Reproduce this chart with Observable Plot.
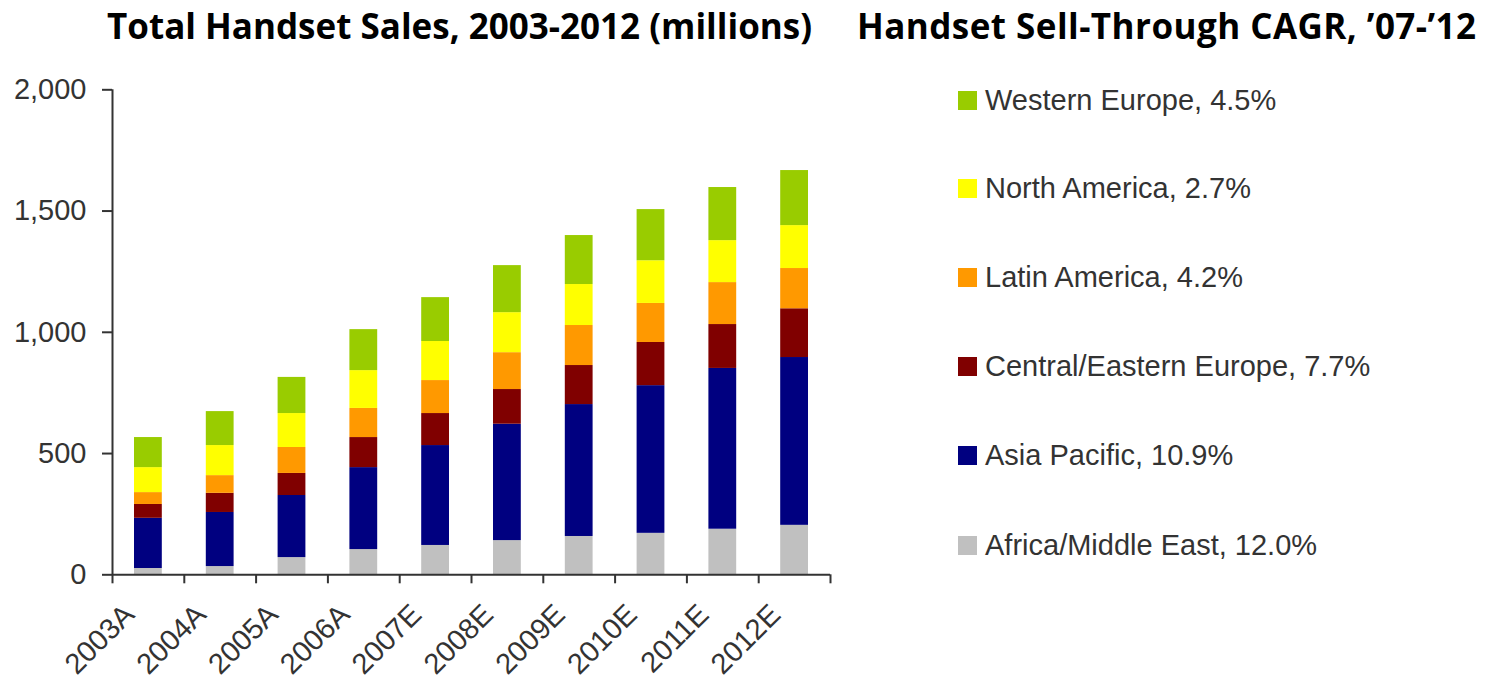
<!DOCTYPE html>
<html>
<head>
<meta charset="utf-8">
<script src="https://cdn.jsdelivr.net/npm/d3@7"></script>
<script src="https://cdn.jsdelivr.net/npm/@observablehq/plot@0.6"></script>
<style>
  html, body { margin: 0; padding: 0; background: #fff; }
  #wrap { position: relative; width: 1491px; height: 685px; overflow: hidden; }
  .title { position: absolute; font-family: "Open Sans", sans-serif; font-weight: 700; font-size: 35px; color: #000; white-space: nowrap; line-height: 1; }
  #chart { position: absolute; left: 0; top: 70px; }
  #legend { position: absolute; left: 958px; top: 0; font-family: "Liberation Sans", Arial, sans-serif; font-size: 29px; color: #333; }
  .item { position: absolute; white-space: nowrap; display: flex; align-items: center; }
  .sw { width: 19px; height: 19px; margin-right: 8px; flex: none; }
</style>
</head>
<body>
<div id="wrap">
  <div class="title" id="t1" style="left:107px; top:8px;">Total Handset Sales, 2003-2012 (millions)</div>
  <div class="title" id="t2" style="left:857px; top:8px; letter-spacing:0.45px;">Handset Sell-Through CAGR, ’07-’12</div>
  <div id="chart"></div>
  <div id="legend"></div>
</div>
<script>
// Categories (x tick labels)
const years = ["2003A", "2004A", "2005A", "2006A", "2007E", "2008E", "2009E", "2010E", "2011E", "2012E"];

// Series (millions of handsets), stacked bottom to top
const africaMiddleEast      = [26, 34, 71, 104, 121, 141, 158, 171, 188, 204];
const asiaPacific           = [207, 223, 256, 338, 412, 480, 544, 609, 663, 692];
const centralEasternEurope  = [57, 79, 91, 124, 132, 143, 161, 178, 181, 201];
const latinAmerica          = [49, 73, 107, 120, 136, 152, 165, 161, 173, 166];
const northAmerica          = [103, 124, 140, 156, 161, 165, 169, 176, 173, 177];
const westernEurope         = [124, 140, 149, 169, 181, 194, 202, 211, 219, 227];

// Region names (bottom to top) and their CAGR '07-'12
const regions = ["Africa/Middle East", "Asia Pacific", "Central/Eastern Europe", "Latin America", "North America", "Western Europe"];
const cagr = ["12.0%", "10.9%", "7.7%", "4.2%", "2.7%", "4.5%"];
const colors = ["#C0C0C0", "#000080", "#800000", "#FF9900", "#FFFF00", "#99CC00"];

// Y tick values
const yTicks = [0, 500, 1000, 1500, 2000];

const series = [africaMiddleEast, asiaPacific, centralEasternEurope, latinAmerica, northAmerica, westernEurope];
const data = [];
years.forEach((yr, i) => {
  regions.forEach((r, k) => {
    data.push({i, year: yr, region: r, value: series[k][i]});
  });
});

const axisColor = "#333";
const chart = Plot.plot({
  width: 850,
  height: 615,
  marginLeft: 112,
  marginRight: 20,
  marginTop: 19.3,
  marginBottom: 110.7,
  style: { fontFamily: "'Liberation Sans', Arial, sans-serif", background: "#fff", color: axisColor },
  x: { type: "linear", domain: [0, years.length], axis: null, label: null },
  y: { domain: [0, 2000], axis: null, label: null },
  color: { domain: regions, range: colors },
  marks: [
    Plot.rectY(data, { x: "i", interval: 1, y: "value", fill: "region", insetLeft: 22, insetRight: 22, order: null }),
    Plot.ruleX([0], { stroke: axisColor, strokeWidth: 2 }),
    Plot.ruleY([0], { stroke: axisColor, strokeWidth: 2 }),
    Plot.axisY({ ticks: yTicks, label: null, tickSize: 10, tickPadding: 16, tickFormat: d3.format(","), fontSize: 29, stroke: axisColor, strokeWidth: 2, fill: axisColor }),
    Plot.axisX({ ticks: d3.range(0, years.length + 1), label: null, tickSize: 9, tickFormat: () => "", stroke: axisColor, strokeWidth: 2 }),
    Plot.axisX({ ticks: years.map((_, i) => i + 0.5), label: null, tickSize: 0, tickPadding: 30, tickRotate: -45, fontSize: 29, fill: axisColor,
      dx: -19, dy: 5, tickFormat: (v) => years[Math.round(v - 0.5)] })
  ]
});
document.getElementById("chart").appendChild(chart);

// Legend (top to bottom = Western Europe ... Africa/Middle East)
const legend = document.getElementById("legend");
const rowY = [100, 188, 277, 366, 455, 545];
for (let j = 0; j < regions.length; j++) {
  const k = regions.length - 1 - j;
  const it = document.createElement("div");
  it.className = "item";
  it.style.top = (rowY[j] - 17) + "px";
  it.style.height = "34px";
  it.innerHTML = `<span class="sw" style="background:${colors[k]}"></span><span>${regions[k]}, ${cagr[k]}</span>`;
  legend.appendChild(it);
}
</script>
</body>
</html>
